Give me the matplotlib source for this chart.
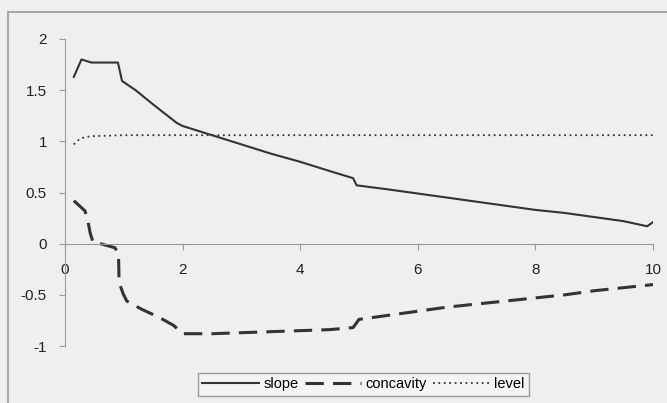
import matplotlib
matplotlib.use("Agg")
import matplotlib.pyplot as plt
from matplotlib.patches import Rectangle

plt.rcParams['font.family'] = ['Liberation Sans', 'DejaVu Sans']

# values
slope_x = [0.15, 0.28, 0.45, 0.9, 0.97, 1.2, 1.5, 1.9, 2.0, 2.5, 3.0, 3.5, 4.0, 4.5,
           4.9, 4.96, 5.5, 6.0, 6.5, 7.0, 7.5, 8.0, 8.5, 9.0, 9.5, 9.9, 10.0]
slope_y = [1.63, 1.80, 1.77, 1.77, 1.59, 1.50, 1.36, 1.18, 1.15, 1.06, 0.97, 0.88,
           0.80, 0.71, 0.64, 0.57, 0.53, 0.49, 0.45, 0.41, 0.37, 0.33, 0.30, 0.26,
           0.22, 0.17, 0.21]

conc_x = [0.15, 0.34, 0.39, 0.43, 0.48, 0.6, 0.85, 0.91, 0.92, 0.99, 1.05, 1.3,
          1.6, 1.85, 2.0, 2.5, 3.0, 3.5, 4.0, 4.5, 4.9, 5.0, 5.5, 6.0, 6.5, 7.0,
          7.5, 8.0, 8.5, 9.0, 9.5, 10.0]
conc_y = [0.42, 0.32, 0.22, 0.10, 0.01, 0.0, -0.04, -0.10, -0.38, -0.49, -0.56,
          -0.64, -0.72, -0.80, -0.88, -0.88, -0.87, -0.86, -0.85, -0.84, -0.82,
          -0.74, -0.70, -0.66, -0.62, -0.59, -0.56, -0.53, -0.50, -0.46, -0.43,
          -0.40]

level_x = [0.15, 0.2, 0.27, 0.43, 1.0, 10.0]
level_y = [0.97, 1.0, 1.03, 1.05, 1.06, 1.06]

xticks = [0, 2, 4, 6, 8, 10]
yticks = [-1, -0.5, 0, 0.5, 1, 1.5, 2]
ylabels = ['-1', '-0.5', '0', '0.5', '1', '1.5', '2']

bg = '#efefef'
fig = plt.figure(figsize=(6.67, 4.03), dpi=100, facecolor=bg)
fig.patches.append(Rectangle((8 / 667, -0.1), 1.2, (403 - 12) / 403 + 0.1,
                             transform=fig.transFigure, fill=False,
                             edgecolor='#9a9a9a', linewidth=1.2))

ax = fig.add_axes([65 / 667, 57 / 403, 588 / 667, 307 / 403])
ax.set_facecolor(bg)
ax.patch.set_alpha(0)

ax.plot(slope_x, slope_y, color='#333333', lw=1.5, label='slope')
ax.plot(conc_x, conc_y, color='#333333', lw=2.2, dashes=(6, 3), label='concavity')
ax.plot(level_x, level_y, color='#333333', lw=1.3, dashes=(1, 2), label='level')

ax.set_xlim(0, 10)
ax.set_ylim(-1, 2)
ax.spines['top'].set_visible(False)
ax.spines['right'].set_visible(False)
ax.spines['bottom'].set_position(('data', 0))
ax.spines['left'].set_color('#999999')
ax.spines['bottom'].set_color('#999999')

ax.set_xticks(xticks)
ax.set_xticklabels([str(t) for t in xticks])
ax.set_yticks(yticks)
ax.set_yticklabels(ylabels)
ax.tick_params(axis='y', direction='out', length=4, color='#999999',
               labelsize=11, pad=9, labelcolor='#222222')
ax.tick_params(axis='x', direction='out', length=4, color='#999999',
               labelsize=11, pad=10, labelcolor='#222222')

fig.legend(loc='upper left', bbox_to_anchor=(198 / 667, 30 / 403), ncol=3,
           frameon=True, fancybox=False, edgecolor='#999999', facecolor='#f4f4f4',
           fontsize=10.5, handlelength=3.9, handletextpad=0.3, columnspacing=0.4,
           borderpad=0.3, borderaxespad=0, framealpha=1)

fig.savefig('out.png', dpi=100, facecolor=bg)
